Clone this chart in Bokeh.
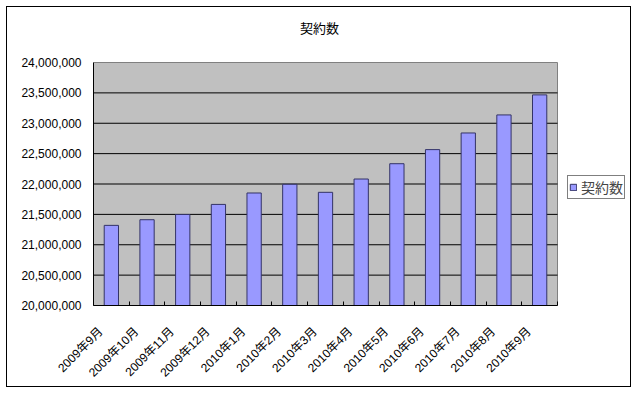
import math
from bokeh.plotting import figure
from bokeh.models import (ColumnDataSource, FixedTicker, Range1d, Legend,
                          LegendItem, NumeralTickFormatter, Label)
from bokeh.embed import file_html
from bokeh.resources import INLINE

months = ["2009年9月", "2009年10月", "2009年11月", "2009年12月", "2010年1月",
          "2010年2月", "2010年3月", "2010年4月", "2010年5月", "2010年6月",
          "2010年7月", "2010年8月", "2010年9月"]
contracts = [21319000, 21412000, 21498000, 21664000, 21852000, 21995000,
             21863000, 22082000, 22334000, 22566000, 22840000, 23137000,
             23467000]
y_ticks = [20000000, 20500000, 21000000, 21500000, 22000000, 22500000,
           23000000, 23500000, 24000000]
series_name = "契約数"

n = len(months)
idx = list(range(n))
src = ColumnDataSource(dict(x=idx, y=contracts))
y_lo, y_hi = y_ticks[0], y_ticks[-1]

FONT = "'Liberation Sans', 'Noto Sans CJK JP', sans-serif"

# layout (pixels)
W, H = 625, 381
B_LEFT, B_RIGHT, B_TOP, B_BOTTOM = 86, 0, 10, 83
AREA_W = 464                      # width of the grey plot area
AREA_H = 243                      # height of the grey plot area
frame_w = W - B_LEFT - B_RIGHT
frame_h = H - B_TOP - B_BOTTOM
x_end = -0.5 + n * frame_w / AREA_W
y_end = y_lo + (y_hi - y_lo) * frame_h / AREA_H
LABEL_SHIFT = 0.3                 # rotated labels end left of the bar centre

p = figure(width=W, height=H, output_backend="svg", toolbar_location=None,
           x_range=Range1d(-0.5, x_end),
           y_range=Range1d(y_lo, y_end),
           min_border_left=B_LEFT, min_border_right=B_RIGHT,
           min_border_top=B_TOP, min_border_bottom=B_BOTTOM)
p.styles = {"border": "1px solid #000000", "margin-left": "6px",
            "margin-top": "6px"}

p.background_fill_color = "#FFFFFF"
p.border_fill_color = "#FFFFFF"
p.outline_line_color = None

# grey plot area
p.quad(left=[-0.5], right=[n - 0.5], bottom=[y_lo], top=[y_hi],
       fill_color="#C0C0C0", line_color="#808080", line_width=1)

# horizontal gridlines
inner = y_ticks[1:-1]
p.segment(x0=[-0.5] * len(inner), x1=[n - 0.5] * len(inner), y0=inner, y1=inner,
          line_color="#000000", line_width=1)

r = p.vbar(x="x", top="y", bottom=y_lo, width=0.4, source=src,
           fill_color="#9999FF", line_color="#333366", line_width=1)

p.xgrid.grid_line_color = None
p.ygrid.grid_line_color = None

# title
title = Label(x=226, y=frame_h - 11, x_units="screen", y_units="screen",
              text=series_name, text_align="center", text_baseline="middle",
              text_font=FONT, text_font_size="13px", text_color="#000000")
p.add_layout(title)

# y axis
p.yaxis.bounds = (y_lo, y_hi)
p.yaxis.ticker = FixedTicker(ticks=y_ticks)
p.yaxis.formatter = NumeralTickFormatter(format="0,0")
p.yaxis.major_tick_out = 0
p.yaxis.major_tick_in = 0
p.yaxis.minor_tick_out = 0
p.yaxis.minor_tick_in = 0
p.yaxis.major_label_standoff = 12
p.yaxis.major_label_text_font = FONT
p.yaxis.major_label_text_font_size = "12px"
p.yaxis.major_label_text_color = "#000000"
p.yaxis.axis_line_color = "#000000"

# x axis
label_pos = [i - LABEL_SHIFT for i in idx]
p.xaxis.bounds = (-0.5, n - 0.5)
p.xaxis.ticker = FixedTicker(ticks=label_pos,
                             minor_ticks=[i - 0.5 for i in idx] + [n - 0.5])
p.xaxis.major_label_overrides = {pos: m for pos, m in zip(label_pos, months)}
p.xaxis.major_label_orientation = math.pi / 4
p.xaxis.major_tick_out = 0
p.xaxis.major_tick_in = 0
p.xaxis.minor_tick_in = 4
p.xaxis.minor_tick_out = 0
p.xaxis.minor_tick_line_color = "#000000"
p.xaxis.major_label_standoff = 24
p.xaxis.major_label_text_font = FONT
p.xaxis.major_label_text_font_size = "12px"
p.xaxis.major_label_text_color = "#000000"
p.xaxis.axis_line_color = "#000000"

legend = Legend(items=[LegendItem(label=series_name, renderers=[r])],
                location=(AREA_W + 10, 106))
legend.border_line_color = "#000000"
legend.border_line_width = 1
legend.background_fill_color = "#FFFFFF"
legend.background_fill_alpha = 1
legend.padding = 1
legend.margin = 0
legend.spacing = 0
legend.glyph_width = 8
legend.glyph_height = 8
legend.label_standoff = 4
legend.label_text_font = FONT
legend.label_text_font_size = "14px"
legend.label_height = 12
legend.label_text_baseline = "middle"
p.add_layout(legend, "center")

open("out.html", "w").write(file_html(p, INLINE))
